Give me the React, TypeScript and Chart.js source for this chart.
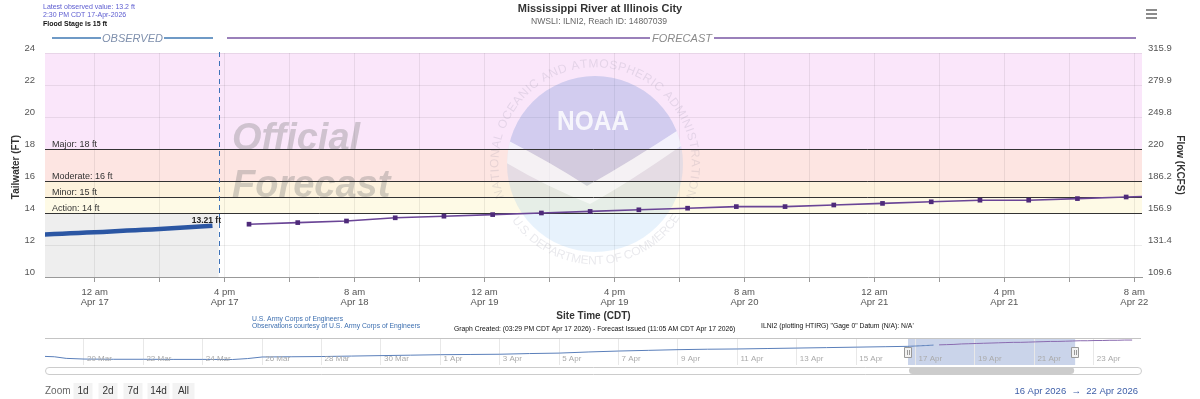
import React, { useEffect, useRef } from 'react';
import { Chart, registerables } from 'chart.js';
Chart.register(...registerables);

const FONT = "'Liberation Sans',Arial,sans-serif";
const FONT_W = "'Liberation Sans',Arial,sans-serif";

// ---- main chart data (x = hours since 12 am Apr 17 2026 CDT, y = stage ft) ----
const xMinHour = -6.12;
const xMaxHour = 128.95;
const nowHour = 15.25;

const observedHours = [-6.2, -5, -4, -3, -2, -1, 0, 1, 2, 3, 4, 5, 6, 7, 8, 9, 10, 11, 12, 13, 14, 14.5];
const observedStage = [12.66, 12.69, 12.71, 12.73, 12.75, 12.78, 12.8, 12.82, 12.85, 12.87, 12.9, 12.92, 12.95, 12.97, 13.0, 13.03, 13.06, 13.09, 13.12, 13.15, 13.19, 13.21];

const forecastHours = [19, 25, 31, 37, 43, 49, 55, 61, 67, 73, 79, 85, 91, 97, 103, 109, 115, 121, 127, 133, 139, 145, 151, 157, 163, 169, 175];
const forecastStage = [13.3, 13.4, 13.5, 13.7, 13.8, 13.9, 14.0, 14.1, 14.2, 14.3, 14.4, 14.4, 14.5, 14.6, 14.7, 14.8, 14.8, 14.9, 15.0, 15.1, 15.1, 15.2, 15.2, 15.3, 15.3, 15.4, 15.4];

const thresholdNames = ['Action', 'Minor', 'Moderate', 'Major'];
const thresholdStages = [14, 15, 16, 18];

const xTickHours = [0, 8, 16, 24, 32, 40, 48, 56, 64, 72, 80, 88, 96, 104, 112, 120, 128];
const xTickLabels = [
  ['12 am', 'Apr 17'], ['4 pm', 'Apr 17'], ['8 am', 'Apr 18'], ['12 am', 'Apr 19'], ['4 pm', 'Apr 19'],
  ['8 am', 'Apr 20'], ['12 am', 'Apr 21'], ['4 pm', 'Apr 21'], ['8 am', 'Apr 22'],
];
const flowTickLabels = ['109.6', '131.4', '156.9', '186.2', '220', '249.8', '279.9', '315.9'];

// ---- navigator data (x = days since 20 Mar 2026) ----
const navMinDay = -1.313;
const navMaxDay = 35.59;
const navHistoryDays = [-1.4, -1.0, -0.6, 0, 1, 2, 3, 4, 5, 5.5, 6, 7, 8, 9, 10, 11, 12, 13, 14, 15, 16, 17, 18, 19, 20, 21, 22, 23, 24, 25, 26, 27];
const navHistoryStage = [8.3, 8.1, 7.4, 7.1, 7.0, 7.0, 6.95, 6.95, 6.9, 7.3, 8.0, 8.1, 8.2, 8.4, 8.6, 8.8, 9.0, 9.1, 9.2, 9.5, 9.7, 10.2, 10.6, 10.9, 11.2, 11.4, 11.5, 11.7, 11.9, 12.1, 12.3, 12.5];
const navTickDays = [0, 2, 4, 6, 8, 10, 12, 14, 16, 18, 20, 22, 24, 26, 28, 30, 32, 34];
const navTickLabels = ['20 Mar', '22 Mar', '24 Mar', '26 Mar', '28 Mar', '30 Mar', '1 Apr', '3 Apr', '5 Apr', '7 Apr', '9 Apr', '11 Apr', '13 Apr', '15 Apr', '17 Apr', '19 Apr', '21 Apr', '23 Apr'];

const zoomButtons = ['1d', '2d', '7d', '14d', 'All'];

function txt(ctx: CanvasRenderingContext2D, s: string, x: number, y: number, font: string, color: string, align: CanvasTextAlign = 'left', base: CanvasTextBaseline = 'middle') {
  ctx.font = font;
  ctx.fillStyle = color;
  ctx.textAlign = align;
  ctx.textBaseline = base;
  ctx.fillText(s, x, y);
}

function arcText(ctx: CanvasRenderingContext2D, text: string, cx: number, cy: number, r: number, a0: number, a1: number, clockwise: boolean) {
  const chars = [...text];
  const widths = chars.map((c) => ctx.measureText(c).width);
  const total = widths.reduce((s, w) => s + w, 0);
  const arcLen = Math.abs(a1 - a0) * r;
  const gap = (arcLen - total) / (chars.length - 1);
  let pos = 0;
  chars.forEach((c, i) => {
    const w = widths[i];
    const mid = pos + w / 2;
    const ang = clockwise ? a0 + mid / r : a0 - mid / r;
    ctx.save();
    ctx.translate(cx + r * Math.cos(ang), cy + r * Math.sin(ang));
    ctx.rotate(clockwise ? ang + Math.PI / 2 : ang - Math.PI / 2);
    ctx.fillText(c, 0, 0);
    ctx.restore();
    pos += w + gap;
  });
}

const mainDecor = {
  id: 'mainDecor',
  beforeDraw(chart: any) {
    const { ctx, chartArea: a, scales } = chart;
    const y = scales.y, x = scales.x;
    ctx.save();
    const band = (lo: number, hi: number, color: string) => {
      const t = y.getPixelForValue(hi), b = y.getPixelForValue(lo);
      ctx.fillStyle = color;
      ctx.fillRect(a.left, t, a.right - a.left, b - t);
    };
    band(18, 24, '#fae6fa');
    band(16, 18, '#fde5e2');
    band(15, 16, '#fdf2dd');
    band(14, 15, '#fefae6');
    const xn = x.getPixelForValue(nowHour);
    const t14 = y.getPixelForValue(14);
    ctx.fillStyle = '#eeeeee';
    ctx.fillRect(a.left, t14, xn - a.left, a.bottom - t14);
    ctx.restore();
  },
  beforeDatasetsDraw(chart: any) {
    const { ctx, chartArea: a, scales } = chart;
    const y = scales.y;
    ctx.save();
    // Official Forecast watermark
    txt(ctx, 'Official', 232, 150, `italic bold 38px ${FONT_W}`, 'rgba(130,130,130,0.36)', 'left', 'alphabetic');
    txt(ctx, 'Forecast', 232, 197, `italic bold 38px ${FONT_W}`, 'rgba(130,130,130,0.36)', 'left', 'alphabetic');
    // NOAA emblem watermark
    const cx = 595, cy = 164, R = 88;
    ctx.save();
    ctx.beginPath();
    ctx.arc(cx, cy, R, 0, Math.PI * 2);
    ctx.clip();
    ctx.fillStyle = 'rgba(110,180,235,0.17)';
    ctx.fillRect(cx - R, cy - R, 2 * R, 2 * R);
    ctx.beginPath();
    ctx.moveTo(cx - 100, cy - 100);
    ctx.lineTo(cx + 100, cy - 100);
    ctx.lineTo(cx + 100, cy - 45);
    ctx.quadraticCurveTo(cx + 40, cy - 5, cx - 8, cy + 22);
    ctx.quadraticCurveTo(cx - 50, cy - 5, cx - 100, cy - 30);
    ctx.closePath();
    ctx.fillStyle = 'rgba(70,70,170,0.11)';
    ctx.fill();
    ctx.beginPath();
    ctx.moveTo(cx - 100, cy - 30);
    ctx.quadraticCurveTo(cx - 50, cy - 5, cx - 8, cy + 22);
    ctx.quadraticCurveTo(cx + 40, cy - 5, cx + 100, cy - 45);
    ctx.lineTo(cx + 100, cy - 28);
    ctx.quadraticCurveTo(cx + 40, cy + 15, cx - 5, cy + 40);
    ctx.quadraticCurveTo(cx - 55, cy + 20, cx - 100, cy - 8);
    ctx.closePath();
    ctx.fillStyle = 'rgba(255,255,255,0.6)';
    ctx.fill();
    ctx.restore();
    ctx.font = `bold 28px ${FONT_W}`;
    ctx.fillStyle = 'rgba(255,255,255,0.8)';
    ctx.textAlign = 'center';
    ctx.textBaseline = 'middle';
    ctx.fillText('NOAA', cx - 2, cy - 42, 72);
    ctx.font = `12px ${FONT_W}`;
    ctx.fillStyle = 'rgba(120,120,140,0.16)';
    arcText(ctx, 'NATIONAL OCEANIC AND ATMOSPHERIC ADMINISTRATION', cx, cy, 100, (160 * Math.PI) / 180, (380 * Math.PI) / 180, true);
    arcText(ctx, 'U.S. DEPARTMENT OF COMMERCE', cx, cy, 97, (146 * Math.PI) / 180, (32 * Math.PI) / 180, false);
    // thresholds
    thresholdStages.forEach((s, i) => {
      const py = Math.round(y.getPixelForValue(s)) + 0.5;
      ctx.strokeStyle = '#333';
      ctx.lineWidth = 1;
      ctx.beginPath();
      ctx.moveTo(a.left, py);
      ctx.lineTo(a.right, py);
      ctx.stroke();
      txt(ctx, `${thresholdNames[i]}: ${s} ft`, 52, py - 2.5, `9px ${FONT}`, '#333', 'left', 'alphabetic');
    });
    ctx.restore();
  },
  afterDatasetsDraw(chart: any) {
    const { ctx, chartArea: a, scales } = chart;
    const x = scales.x, y = scales.y;
    ctx.save();
    const xn = Math.round(x.getPixelForValue(nowHour)) + 0.5;
    ctx.strokeStyle = '#3d72b8';
    ctx.lineWidth = 1;
    ctx.setLineDash([5, 4]);
    ctx.beginPath();
    ctx.moveTo(xn, a.top - 1);
    ctx.lineTo(xn, a.bottom);
    ctx.stroke();
    ctx.setLineDash([]);
    const last = observedStage.length - 1;
    txt(ctx, `${observedStage[last].toFixed(2)} ft`, 221, y.getPixelForValue(observedStage[last]) - 3, `bold 8.5px ${FONT_W}`, '#222', 'right', 'alphabetic');
    ctx.restore();
  },
  afterDraw(chart: any) {
    const { ctx, chartArea: a } = chart;
    ctx.save();
    // header left
    txt(ctx, 'Latest observed value: 13.2 ft', 43, 7, `7px ${FONT}`, '#5c5cd0');
    txt(ctx, '2:30 PM CDT 17-Apr-2026', 43, 15.5, `7px ${FONT}`, '#5c5cd0');
    txt(ctx, 'Flood Stage is 15 ft', 43, 24.5, `bold 7px ${FONT}`, '#111');
    // title
    txt(ctx, 'Mississippi River at Illinois City', 600, 8.5, `bold 11px ${FONT}`, '#333', 'center');
    txt(ctx, 'NWSLI: ILNI2, Reach ID: 14807039', 599, 22, `8.6px ${FONT}`, '#666', 'center');
    // menu icon
    ctx.strokeStyle = '#666';
    ctx.lineWidth = 1.5;
    [10, 14, 18].forEach((yy) => {
      ctx.beginPath();
      ctx.moveTo(1146, yy);
      ctx.lineTo(1157, yy);
      ctx.stroke();
    });
    // OBSERVED / FORECAST headers
    ctx.lineWidth = 2;
    ctx.strokeStyle = '#6f9ac6';
    ctx.beginPath();
    ctx.moveTo(52, 38); ctx.lineTo(101, 38);
    ctx.moveTo(164, 38); ctx.lineTo(213, 38);
    ctx.stroke();
    txt(ctx, 'OBSERVED', 132.5, 38.5, `italic 11px ${FONT}`, '#7f90ad', 'center');
    ctx.strokeStyle = '#9a80ba';
    ctx.beginPath();
    ctx.moveTo(227, 38); ctx.lineTo(650, 38);
    ctx.moveTo(714, 38); ctx.lineTo(1136, 38);
    ctx.stroke();
    txt(ctx, 'FORECAST', 682, 38.5, `italic 11px ${FONT}`, '#8a8a8a', 'center');
    // axis titles
    ctx.save();
    ctx.translate(16, 167);
    ctx.rotate(-Math.PI / 2);
    txt(ctx, 'Tailwater (FT)', 0, 0, `bold 10px ${FONT_W}`, '#333', 'center');
    ctx.restore();
    ctx.save();
    ctx.translate(1180, 165);
    ctx.rotate(Math.PI / 2);
    txt(ctx, 'Flow (KCFS)', 0, 0, `bold 10px ${FONT_W}`, '#333', 'center');
    ctx.restore();
    // footer
    txt(ctx, 'Site Time (CDT)', (a.left + a.right) / 2, 316, `bold 10px ${FONT_W}`, '#333', 'center');
    txt(ctx, 'U.S. Army Corps of Engineers', 252, 319, `6.8px ${FONT}`, '#3d6fb0');
    txt(ctx, 'Observations courtesy of U.S. Army Corps of Engineers', 252, 326, `6.8px ${FONT}`, '#3d6fb0');
    txt(ctx, 'Graph Created: (03:29 PM CDT Apr 17 2026) - Forecast Issued (11:05 AM CDT Apr 17 2026)', 454, 329, `6.8px ${FONT}`, '#111');
    txt(ctx, 'ILNI2 (plotting HTIRG) "Gage 0" Datum (N/A): N/A\'', 761, 326, `6.8px ${FONT}`, '#111');
    // zoom buttons
    txt(ctx, 'Zoom', 45, 391, `10px ${FONT}`, '#666');
    const btnX = [83, 108, 133, 158.5, 183.5];
    zoomButtons.forEach((b, i) => {
      const w = b.length > 2 ? 22 : 19;
      ctx.fillStyle = '#f3f3f3';
      ctx.fillRect(btnX[i] - w / 2, 383, w, 16);
      txt(ctx, b, btnX[i], 391, `10px ${FONT}`, '#333', 'center');
    });
    txt(ctx, '16 Apr 2026  \u2192  22 Apr 2026', 1138, 391, `9.5px ${FONT}`, '#3d5ea8', 'right');
    ctx.restore();
  },
};

const navDecor = {
  id: 'navDecor',
  beforeDraw(chart: any) {
    const { ctx, chartArea: a, scales } = chart;
    const x = scales.x;
    const l = x.getPixelForValue(28 + xMinHour / 24), r = x.getPixelForValue(28 + xMaxHour / 24);
    ctx.save();
    ctx.fillStyle = 'rgba(102,133,194,0.35)';
    ctx.fillRect(l, a.top, r - l, a.bottom - a.top);
    ctx.restore();
  },
  afterDraw(chart: any) {
    const { ctx, chartArea: a, scales } = chart;
    const x = scales.x;
    ctx.save();
    ctx.strokeStyle = '#c4c4c4';
    ctx.lineWidth = 1;
    ctx.beginPath();
    ctx.moveTo(a.left, a.top + 0.5);
    ctx.lineTo(a.right, a.top + 0.5);
    ctx.stroke();
    navTickDays.forEach((d, i) => {
      txt(ctx, navTickLabels[i], x.getPixelForValue(d) + 3, a.top + 21, `8px ${FONT}`, '#aaa');
    });
    const l = x.getPixelForValue(28 + xMinHour / 24), r = x.getPixelForValue(28 + xMaxHour / 24);
    // scrollbar
    const sy = a.bottom + 2;
    ctx.strokeStyle = '#cccccc';
    ctx.fillStyle = '#ffffff';
    ctx.beginPath();
    ctx.roundRect(a.left + 0.5, sy + 0.5, a.right - a.left, 7, 4);
    ctx.fill();
    ctx.stroke();
    ctx.fillStyle = '#cccccc';
    ctx.beginPath();
    ctx.roundRect(l + 1, sy, r - l - 2, 7, 4);
    ctx.fill();
    // handles
    [l, r].forEach((hx) => {
      ctx.fillStyle = '#f2f2f2';
      ctx.strokeStyle = '#999';
      ctx.beginPath();
      ctx.rect(Math.round(hx) - 3.5, a.top + 9.5, 7, 10);
      ctx.fill();
      ctx.stroke();
      ctx.beginPath();
      ctx.moveTo(Math.round(hx) - 0.5, a.top + 12);
      ctx.lineTo(Math.round(hx) - 0.5, a.top + 17);
      ctx.moveTo(Math.round(hx) + 1.5, a.top + 12);
      ctx.lineTo(Math.round(hx) + 1.5, a.top + 17);
      ctx.stroke();
    });
    ctx.restore();
  },
};

export default function App() {
  const mainRef = useRef<HTMLCanvasElement>(null);
  const navRef = useRef<HTMLCanvasElement>(null);

  useEffect(() => {
    Chart.defaults.font.family = FONT;
    const main = new Chart(mainRef.current as HTMLCanvasElement, {
      type: 'line',
      data: {
        datasets: [
          {
            label: 'Observed',
            data: observedHours.map((h, i) => ({ x: h, y: observedStage[i] })),
            borderColor: '#2b56a3',
            borderWidth: 4.5,
            pointRadius: 0,
            clip: 0,
          },
          {
            label: 'Forecast',
            data: forecastHours.map((h, i) => ({ x: h, y: forecastStage[i] })),
            borderColor: '#6a4596',
            borderWidth: 1.6,
            pointStyle: 'rect',
            pointRadius: 3.3,
            pointBackgroundColor: '#4e2a7a',
            pointBorderColor: '#4e2a7a',
            pointBorderWidth: 0,
            clip: 0,
          },
        ],
      } as any,
      options: {
        responsive: false,
        animation: false,
        devicePixelRatio: 1,
        layout: { padding: { top: 53, left: 0, right: 0, bottom: 0 } },
        plugins: { legend: { display: false }, tooltip: { enabled: false }, title: { display: false } },
        scales: {
          x: {
            type: 'linear',
            min: xMinHour,
            max: xMaxHour,
            afterBuildTicks: (s: any) => { s.ticks = xTickHours.map((v) => ({ value: v })); },
            afterFit: (s: any) => { s.height = 122; },
            ticks: {
              autoSkip: false,
              maxRotation: 0,
              minRotation: 0,
              padding: 5,
              color: '#555',
              font: { size: 9.5, lineHeight: 1.1 },
              callback: (v: any) => (v % 16 === 0 ? xTickLabels[v / 16] : ''),
            },
            grid: { color: 'rgba(0,0,0,0.07)', tickColor: '#999', tickLength: 5 },
            border: { color: '#999' },
          },
          y: {
            position: 'left',
            min: 10,
            max: 24,
            afterFit: (s: any) => { s.width = 45; },
            ticks: { stepSize: 2, padding: 10, labelOffset: -5, color: '#555', font: { size: 9.5 } },
            grid: { color: 'rgba(0,0,0,0.07)', drawTicks: false },
            border: { display: false },
          },
          y1: {
            position: 'right',
            min: 10,
            max: 24,
            afterFit: (s: any) => { s.width = 58; },
            ticks: { stepSize: 2, padding: 6, labelOffset: -5, color: '#555', font: { size: 9.5 }, callback: (_v: any, i: number) => flowTickLabels[i] },
            grid: { display: false, drawTicks: false },
            border: { display: false },
          },
        },
      } as any,
      plugins: [mainDecor],
    });

    const navObsX = navHistoryDays.concat(observedHours.map((h) => 28 + h / 24));
    const navObsY = navHistoryStage.concat(observedStage);
    const nav = new Chart(navRef.current as HTMLCanvasElement, {
      type: 'line',
      data: {
        datasets: [
          {
            data: navObsX.map((d, i) => ({ x: d, y: navObsY[i] })),
            borderColor: '#5a7fba',
            borderWidth: 1,
            pointRadius: 0,
          },
          {
            data: forecastHours.map((h, i) => ({ x: 28 + h / 24, y: forecastStage[i] })),
            borderColor: '#8a6bb0',
            borderWidth: 1,
            pointRadius: 0,
          },
        ],
      } as any,
      options: {
        responsive: false,
        animation: false,
        devicePixelRatio: 1,
        layout: { padding: { top: 8, left: 45, right: 59, bottom: 15 } },
        plugins: { legend: { display: false }, tooltip: { enabled: false } },
        scales: {
          x: {
            type: 'linear',
            min: navMinDay,
            max: navMaxDay,
            afterBuildTicks: (s: any) => { s.ticks = navTickDays.map((v) => ({ value: v })); },
            afterFit: (s: any) => { s.height = 0; },
            ticks: { display: false },
            grid: { color: '#e8e8e8', drawTicks: false },
            border: { display: false },
          },
          y: { display: false, min: 4.5, max: 16.3 },
        },
      } as any,
      plugins: [navDecor],
    });

    return () => {
      main.destroy();
      nav.destroy();
    };
  }, []);

  return (
    <div style={{ position: 'fixed', left: 0, top: 0, width: 1200, height: 399, background: '#fff' }}>
      <canvas ref={mainRef} width={1200} height={399} style={{ position: 'absolute', left: 0, top: 0, width: 1200, height: 399 }} />
      <canvas ref={navRef} width={1200} height={50} style={{ position: 'absolute', left: 0, top: 330, width: 1200, height: 50 }} />
    </div>
  );
}
